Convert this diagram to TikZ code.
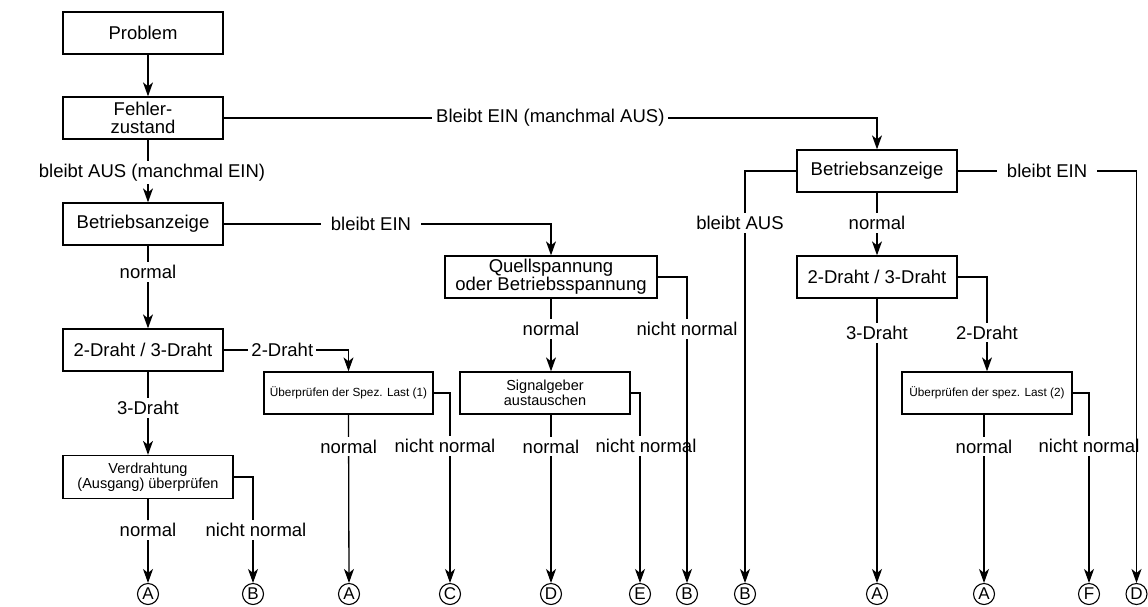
\documentclass[tikz,border=0pt]{standalone}
\usepackage{fontspec}
\setmainfont{Liberation Sans}
\usetikzlibrary{arrows.meta}
\begin{document}
\begin{tikzpicture}[x=1pt,y=-1pt,
  box/.style={draw,line width=1.3pt,minimum height=42pt,align=center,inner sep=1pt,font=\fontsize{18.5}{18}\selectfont},
  sbox/.style={box,font=\fontsize{14.5}{15}\selectfont},
  tbox/.style={box,font=\fontsize{11.8}{13}\selectfont},
  ln/.style={line width=1.3pt},
  arr/.style={ln,-{Stealth[length=14pt,width=10pt,inset=4pt]}},
  lab/.style={fill=white,inner xsep=3pt,inner ysep=3pt,font=\fontsize{18.5}{20}\selectfont},
  ec/.style={draw,circle,line width=1.1pt,minimum size=21pt,inner sep=0pt,font=\fontsize{17}{17}\selectfont}]
\useasboundingbox (0,0) rectangle (1148,606);

% boxes
\node[box,minimum width=160pt] (prob) at (143,33) {Problem};
\node[box,minimum width=160pt] (fehl) at (143,118) {Fehler-\\zustand};
\node[box,minimum width=160pt] (bz1) at (143,224) {Betriebsanzeige};
\node[box,minimum width=160pt] (d1) at (143,350) {2-Draht / 3-Draht};
\node[sbox,minimum width=170pt,minimum height=43pt] (verd) at (148,477) {Verdrahtung\\(Ausgang) überprüfen};
\node[tbox,minimum width=169pt] (ue1) at (348.5,393) {Überprüfen der Spez. Last (1)};
\node[box,minimum width=212pt] (quell) at (551,277) {Quellspannung\\oder Betriebsspannung};
\node[sbox,minimum width=170pt] (sig) at (545,393) {Signalgeber\\austauschen};
\node[box,minimum width=160pt] (bz2) at (877,171) {Betriebsanzeige};
\node[box,minimum width=160pt] (d2) at (877,277) {2-Draht / 3-Draht};
\node[tbox,minimum width=170pt] (ue2) at (987,393) {Überprüfen der spez. Last (2)};

% end circles
\node[ec] (a1) at (148,594) {A};
\node[ec] (b1) at (253,594) {B};
\node[ec] (a2) at (349,594) {A};
\node[ec] (c1) at (450,594) {C};
\node[ec] (dd1) at (551,594) {D};
\node[ec] (e1) at (640,594) {E};
\node[ec] (b2) at (687,594) {B};
\node[ec] (b3) at (745,594) {B};
\node[ec] (a3) at (877,594) {A};
\node[ec] (a4) at (984,594) {A};
\node[ec] (f1) at (1089,594) {F};
\node[ec] (dd2) at (1136.5,594) {D};

% corners
\coordinate (kf) at (fehl.east -| bz2.north);
\coordinate (kb1) at (bz1.east -| quell.north);
\coordinate (kd1) at (d1.east -| ue1.north);
\coordinate (kv) at (verd.east -| b1.north);
\coordinate (ku1) at (ue1.east -| c1.north);
\coordinate (kq) at (quell.east -| b2.north);
\coordinate (ks) at (sig.east -| e1.north);
\coordinate (kaus) at (bz2.west -| b3.north);
\coordinate (kein) at (bz2.east -| dd2.north);
\coordinate (kd2) at (d2.east -| ue2.north);
\coordinate (ku2) at (ue2.east -| f1.north);

% left column
\draw[arr] ([xshift=5pt]prob.south) -- ([xshift=5pt]fehl.north);
\draw[arr] ([xshift=5pt]fehl.south) -- node[lab,pos=0.52,xshift=4pt]{bleibt AUS (manchmal EIN)} ([xshift=5pt]bz1.north);
\draw[arr] (fehl.east) -- node[lab,pos=0.5,inner xsep=4pt]{Bleibt EIN (manchmal AUS)} (kf) -- (bz2.north);
\draw[arr] (bz1.east) -- node[lab,pos=0.45,inner xsep=10pt]{bleibt EIN} (kb1) -- (quell.north);
\draw[arr] ([xshift=5pt]bz1.south) -- node[lab,pos=0.32]{normal} ([xshift=5pt]d1.north);
\draw[arr] ([xshift=5pt]d1.south) -- node[lab,pos=0.44]{3-Draht} (verd.north);
\draw[arr] (d1.east) -- node[lab,pos=0.47]{2-Draht} (kd1) -- (ue1.north);
\draw[arr] (verd.south) -- node[lab,pos=0.37]{normal} (a1.north);
\draw[arr] (verd.east) -- (kv) -- node[lab,pos=0.5,xshift=3pt]{nicht normal} (b1.north);

% Last (1)
\draw[arr] (ue1.south) -- node[lab,pos=0.19]{normal} (a2.north);
\draw[arr] (ue1.east) -- (ku1) -- node[lab,pos=0.28,xshift=-5pt]{nicht normal} (c1.north);

% Quellspannung / Signalgeber
\draw[arr] (quell.south) -- node[lab,pos=0.42]{normal} ([xshift=6pt]sig.north);
\draw[arr] ([xshift=6pt]sig.south) -- node[lab,pos=0.19]{normal} (dd1.north);
\draw[arr] (sig.east) -- (ks) -- node[lab,pos=0.28,xshift=6pt]{nicht normal} (e1.north);

% right part
\draw[arr] (bz2.south) -- node[lab,pos=0.48]{normal} (d2.north);
\draw[arr] (d2.south) -- node[lab,pos=0.12]{3-Draht} (a3.north);
\draw[arr] (d2.east) -- (kd2) -- node[lab,pos=0.59]{2-Draht} (ue2.north);
\draw[arr] ([xshift=-3pt]ue2.south) -- node[lab,pos=0.19]{normal} (a4.north);
\draw[arr] (ue2.east) -- (ku2) -- node[lab,pos=0.28]{nicht normal} (f1.north);

% lines drawn over neighbouring labels
\draw[arr] (quell.east) -- (kq) -- node[lab,pos=0.17]{nicht normal} (b2.north);
\draw[arr] (bz2.west) -- (kaus) -- node[lab,pos=0.126,xshift=-5pt]{bleibt AUS} (b3.north);
\draw[arr] (bz2.east) -- node[lab,pos=0.5,inner xsep=10pt]{bleibt EIN} (kein) -- (dd2.north);
\end{tikzpicture}
\end{document}
